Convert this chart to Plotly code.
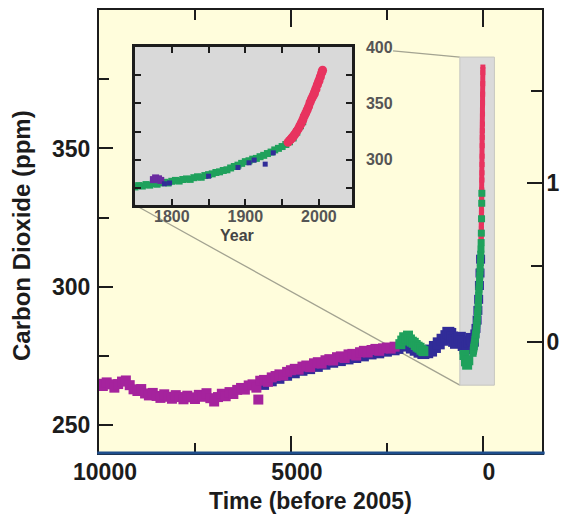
import math
import plotly.graph_objects as go

# ---------------- data ----------------
# Main panel: time in years before 2005, CO2 in ppm
mag_t = [10000, 9900, 9800, 9700, 9600, 9500, 9400, 9300, 9200, 9100, 9000, 8900, 8800, 8700,
         8600, 8500, 8400, 8300, 8200, 8100, 8000, 7900, 7800, 7700, 7600, 7500, 7400, 7300,
         7200, 7100, 7000, 6900, 6800, 6700, 6600, 6500, 6400, 6300, 6200, 6100, 6000, 5900,
         5850, 5800, 5700, 5600, 5500, 5400, 5300, 5200, 5100, 5000, 4900, 4800, 4700, 4600,
         4500, 4400, 4300, 4200, 4100, 4000, 3900, 3800, 3700, 3600, 3500, 3400, 3300, 3200,
         3100, 3000, 2900, 2800, 2700, 2600, 2500, 2400, 2300]
mag_c = [265.0, 264.2, 265.5, 264.8, 263.6, 264.9, 265.8, 266.2, 264.5, 263.0, 262.4, 263.1, 261.5, 260.8,
         261.7, 260.6, 259.9, 261.2, 260.3, 259.6, 260.9, 260.2, 259.4, 260.7, 260.1, 259.5, 261.0, 260.3,
         261.6, 259.8, 258.6, 260.2, 261.4, 260.5, 262.0, 261.3, 262.8, 263.5, 262.9, 264.4, 264.8, 263.6,
         259.3, 266.1, 266.4, 265.7, 267.3, 267.8, 268.4, 268.0, 269.3, 269.9, 270.4, 270.1, 271.2, 271.6,
         271.0, 272.4, 272.8, 272.3, 273.5, 273.9, 273.4, 274.6, 274.9, 274.3, 275.6, 275.8, 275.2, 276.4,
         276.9, 276.3, 277.2, 277.6, 276.9, 277.8, 278.1, 277.7, 278.4]

blue_old_t = [5700, 5500, 5300, 5100, 4900, 4700, 4500, 4300, 4100, 3900, 3700, 3500, 3300, 3100,
              2900, 2700, 2500, 2300, 2200]
blue_old_c = [264.6, 265.9, 266.8, 267.9, 268.8, 269.7, 270.3, 271.1, 271.9, 272.6, 273.2, 273.8, 274.3, 274.9,
              275.6, 276.0, 276.6, 277.1, 277.6]

blue_late_t = [1950, 1850, 1750, 1650, 1550, 1450, 1350, 1250, 1150, 1050, 950, 900, 850, 800,
               750, 700, 650, 600, 550, 500, 450, 400, 350, 300, 260]
blue_late_c = [278.8, 278.1, 277.3, 276.6, 276.1, 276.4, 277.0, 278.3, 279.6, 280.9, 282.2, 283.4, 283.0, 281.7,
               280.5, 279.8, 280.9, 281.6, 280.2, 279.0, 277.8, 278.6, 280.1, 281.2, 280.6]

green_main_t = [2150, 2100, 2050, 2000, 1950, 1900, 1850, 1800, 1750, 1700, 1650, 1600, 1550,
                480, 440, 410, 380]
green_main_c = [279.3, 280.6, 281.8, 281.2, 282.4, 281.0, 280.2, 279.8, 279.0, 278.4, 278.0, 277.3, 276.8,
                275.4, 273.1, 271.9, 273.5]

spike_blue_t = [240, 210, 180, 150, 130, 110, 90, 75, 60]
spike_blue_c = [281.5, 283.0, 285.0, 288.0, 291.5, 295.5, 300.5, 305.0, 310.0]

# Inset: calendar year, CO2 in ppm
ins_green_yr = [1750, 1755, 1760, 1765, 1770, 1775, 1780, 1785, 1790, 1795, 1800, 1805, 1810, 1815,
                1820, 1825, 1830, 1835, 1840, 1845, 1850, 1855, 1860, 1865, 1870, 1875, 1880, 1885,
                1890, 1895, 1900, 1905, 1910, 1915, 1920, 1925, 1930, 1935, 1940, 1945, 1950, 1955,
                1960, 1965, 1970, 1975, 1978]
ins_green_c = [276.0, 277.2, 276.8, 278.1, 277.6, 279.0, 278.4, 279.6, 280.1, 279.5, 281.0, 281.8, 281.2, 282.6,
               283.1, 282.7, 284.2, 285.0, 284.6, 286.1, 286.9, 287.6, 288.8, 289.4, 290.6, 291.2, 292.8, 294.1,
               295.3, 296.9, 298.4, 299.2, 300.6, 301.3, 302.8, 304.0, 305.6, 306.9, 308.8, 310.2, 311.8, 313.6,
               316.0, 319.4, 324.6, 330.2, 333.8]
ins_purple_yr = [1775, 1778, 1782, 1785]
ins_purple_c = [282.5, 284.0, 283.2, 281.8]
ins_blue_yr = [1790, 1797, 1850, 1890, 1905, 1912, 1927, 1938]
ins_blue_c = [278.8, 279.5, 285.5, 293.2, 297.4, 299.8, 296.2, 306.2]
ins_pink_yr = [1958, 1960, 1962, 1964, 1966, 1968, 1970, 1972, 1974, 1976, 1978, 1980, 1982, 1984,
               1986, 1988, 1990, 1992, 1994, 1996, 1998, 2000, 2002, 2004, 2005]
ins_pink_c = [315.5, 317.0, 318.4, 319.6, 321.2, 323.0, 325.4, 327.4, 330.0, 332.2, 335.0, 338.6, 341.2, 344.2,
              347.2, 351.0, 354.0, 356.4, 358.8, 362.4, 366.4, 369.6, 373.4, 377.4, 379.4]

REF_YEAR = 2005

# tick labels
x_tickvals = [10000, 5000, 0]
x_ticktext = ["10000", "5000", "0"]
x_minor = [7500, 2500]
y_tickvals = [250, 300, 350]
y_ticktext = ["250", "300", "350"]
y_minor = [275, 325, 375]
forcing_major = [0, 1]
forcing_text = ["0", "1"]
forcing_minor = [0.5, 1.5]
ins_x_tickvals = [1800, 1900, 2000]
ins_x_ticktext = ["1800", "1900", "2000"]
ins_x_minor = [1850, 1950]
ins_y_tickvals = [300, 350, 400]
ins_y_ticktext = ["300", "350", "400"]
ins_y_minor = [275, 325, 375]

# ---------------- styling / layout ----------------
W, H = 561, 516
ML, MR, MT, MB = 99, 19, 10, 63
PW, PH = W - ML - MR, H - MT - MB
X_RANGE = [10000, -1540]
Y_RANGE = [240, 400]
INS_X_RANGE = [1750, 2045]
INS_Y_RANGE = [260, 400]
INS_DOM_X = [(135 - ML) / PW, (352 - ML) / PW]
INS_DOM_Y = [(H - MB - 205) / PH, (H - MB - 47) / PH]
BOX = dict(t0=600, t1=-300, c0=264.5, c1=383)
C0 = 280.0  # ppm at zero forcing

MAG = "#A5239D"
BLUE = "#312C98"
GREEN = "#1FA15C"
PINK = "#E8335F"
PURPLE = "#6A2BA0"
YELLOW = "#FFFDDC"
GRAY = "#D9D9D9"
INK = "#1c1c1c"
FONT = "Liberation Sans, Arial, Helvetica, sans-serif"


def forcing_to_ppm(f):
    return C0 * math.exp(f / 5.35)


def pts(x, y, color, size, xa="x", ya="y", sym="square", line_w=0):
    mode = "lines+markers" if line_w else "markers"
    return go.Scatter(x=x, y=y, mode=mode, xaxis=xa, yaxis=ya, showlegend=False,
                      hoverinfo="skip", line=dict(color=color, width=line_w or 1),
                      marker=dict(symbol=sym, size=size, color=color, line=dict(width=0)))


fig = go.Figure()
# main panel
fig.add_trace(pts(blue_old_t, blue_old_c, BLUE, 10))
fig.add_trace(pts(mag_t, mag_c, MAG, 10))
fig.add_trace(pts(blue_late_t, blue_late_c, BLUE, 12))
fig.add_trace(pts(green_main_t, green_main_c, GREEN, 10))
fig.add_trace(pts([REF_YEAR - y for y in ins_pink_yr], ins_pink_c, PINK, 5, line_w=5))
fig.add_trace(pts(spike_blue_t, spike_blue_c, BLUE, 9))
fig.add_trace(pts([REF_YEAR - y for y in ins_green_yr], ins_green_c, GREEN, 7))
# dummy trace for the right-hand forcing axis
fig.add_trace(go.Scatter(x=[], y=[], xaxis="x", yaxis="y3", showlegend=False, hoverinfo="skip"))
# inset
fig.add_trace(pts(ins_green_yr, ins_green_c, GREEN, 7, "x2", "y2"))
fig.add_trace(pts(ins_purple_yr, ins_purple_c, PURPLE, 7, "x2", "y2"))
fig.add_trace(pts(ins_blue_yr, ins_blue_c, BLUE, 5, "x2", "y2"))
fig.add_trace(pts(ins_pink_yr, ins_pink_c, PINK, 9, "x2", "y2", sym="circle", line_w=8))

tickfont = dict(family=FONT, size=23, color=INK, weight=700)
ins_font = dict(family=FONT, size=16, color="#555555", weight=700)

common = dict(showgrid=False, zeroline=False, fixedrange=True, tickmode="array", automargin=False,
              ticks="inside", tickcolor=INK, showline=True, linecolor=INK, linewidth=2)

fig.update_layout(
    width=W, height=H,
    margin=dict(l=ML, r=MR, t=MT, b=MB, pad=0),
    paper_bgcolor="white", plot_bgcolor="rgba(0,0,0,0)",
    xaxis=dict(common, domain=[0, 1], anchor="y", range=X_RANGE, autorange=False,
               tickvals=x_tickvals, ticktext=x_ticktext, ticklen=17, tickwidth=2,
               mirror="ticks", tickfont=tickfont, ticklabelshift=-6, ticklabelstandoff=-3,
               minor=dict(tickmode="array", tickvals=x_minor, ticks="inside", ticklen=10,
                          tickwidth=2, tickcolor=INK)),
    yaxis=dict(common, domain=[0, 1], anchor="x", range=Y_RANGE, autorange=False,
               tickvals=y_tickvals, ticktext=y_ticktext, ticklen=14, tickwidth=2,
               tickfont=tickfont, ticklabelstandoff=2,
               minor=dict(tickmode="array", tickvals=y_minor, ticks="inside", ticklen=10,
                          tickwidth=2, tickcolor=INK)),
    yaxis3=dict(common, overlaying="y", side="right", anchor="x", range=Y_RANGE, autorange=False,
                tickvals=[forcing_to_ppm(f) for f in forcing_major], ticktext=forcing_text,
                ticklen=15, tickwidth=2, tickfont=tickfont, ticklabelstandoff=-2,
                minor=dict(tickmode="array", tickvals=[forcing_to_ppm(f) for f in forcing_minor],
                           ticks="inside", ticklen=11, tickwidth=2, tickcolor=INK)),
    xaxis2=dict(common, domain=INS_DOM_X, anchor="y2", range=INS_X_RANGE, autorange=False,
                tickvals=ins_x_tickvals, ticktext=ins_x_ticktext, ticklen=6, tickwidth=2,
                mirror="ticks", tickfont=ins_font, linewidth=2.5, ticklabelstandoff=-5,
                minor=dict(tickmode="array", tickvals=ins_x_minor, ticks="inside", ticklen=6,
                           tickwidth=2, tickcolor=INK)),
    yaxis2=dict(common, domain=INS_DOM_Y, anchor="x2", side="right", range=INS_Y_RANGE,
                autorange=False, tickvals=ins_y_tickvals, ticktext=ins_y_ticktext, ticklen=6,
                tickwidth=2, mirror="ticks", tickfont=ins_font, linewidth=2.5,
                ticklabelstandoff=8,
                minor=dict(tickmode="array", tickvals=ins_y_minor, ticks="inside", ticklen=6,
                           tickwidth=2, tickcolor=INK)),
)


def px_x(px):
    return (px - ML) / PW


def px_y(py):
    return (H - MB - py) / PH


def dx(t):
    return (t - X_RANGE[0]) / (X_RANGE[1] - X_RANGE[0])


def dy(c):
    return (c - Y_RANGE[0]) / (Y_RANGE[1] - Y_RANGE[0])


# upper connector: from inset top-right corner towards box top-left (starting after the label)
ux0, uy0 = INS_DOM_X[1], INS_DOM_Y[1]
ux1, uy1 = dx(BOX["t0"]), dy(BOX["c1"])
s = 0.38
lx0, ly0 = INS_DOM_X[0], INS_DOM_Y[0]
lx1, ly1 = dx(BOX["t0"]), dy(BOX["c0"])

shapes = [
    dict(type="rect", xref="paper", yref="paper", x0=0, x1=1, y0=0, y1=1,
         fillcolor=YELLOW, line=dict(width=0), layer="below"),
    dict(type="rect", xref="paper", yref="paper", x0=INS_DOM_X[0], x1=INS_DOM_X[1],
         y0=INS_DOM_Y[0], y1=INS_DOM_Y[1], fillcolor=GRAY, line=dict(width=0), layer="below"),
    dict(type="line", xref="paper", yref="paper",
         x0=ux0 + s * (ux1 - ux0), y0=uy0 + s * (uy1 - uy0), x1=ux1, y1=uy1,
         line=dict(color="#A3A391", width=1.3), layer="below"),
    dict(type="line", xref="paper", yref="paper", x0=lx0, y0=ly0, x1=lx1, y1=ly1,
         line=dict(color="#A3A391", width=1.3), layer="below"),
    dict(type="rect", xref="x", yref="y", x0=BOX["t0"], x1=BOX["t1"], y0=BOX["c0"], y1=BOX["c1"],
         fillcolor="#DADADA", line=dict(color="#C6C6C0", width=1), layer="below"),
    dict(type="line", xref="paper", yref="paper", x0=-0.004, x1=1.006, y0=0, y1=0,
         line=dict(color="#1E4E8C", width=3), layer="above"),
]

annotations = [
    dict(text="Carbon Dioxide (ppm)", xref="paper", yref="paper", x=px_x(22), y=px_y(236),
         textangle=-90, showarrow=False, xanchor="center", yanchor="middle",
         font=dict(family=FONT, size=24, color=INK, weight=700)),
    dict(text="Time (before 2005)", xref="paper", yref="paper", x=px_x(310), y=px_y(501),
         showarrow=False, xanchor="center", yanchor="middle",
         font=dict(family=FONT, size=23, color=INK, weight=700)),
    dict(text="Year", xref="paper", yref="paper", x=px_x(237), y=px_y(235),
         showarrow=False, xanchor="center", yanchor="middle",
         font=dict(family=FONT, size=16, color="#444444", weight=700)),
]

fig.update_layout(shapes=shapes, annotations=annotations)
fig.write_html("out.html", config=dict(displayModeBar=False),
               post_script="document.body.style.margin='0';document.body.style.overflow='hidden';")
